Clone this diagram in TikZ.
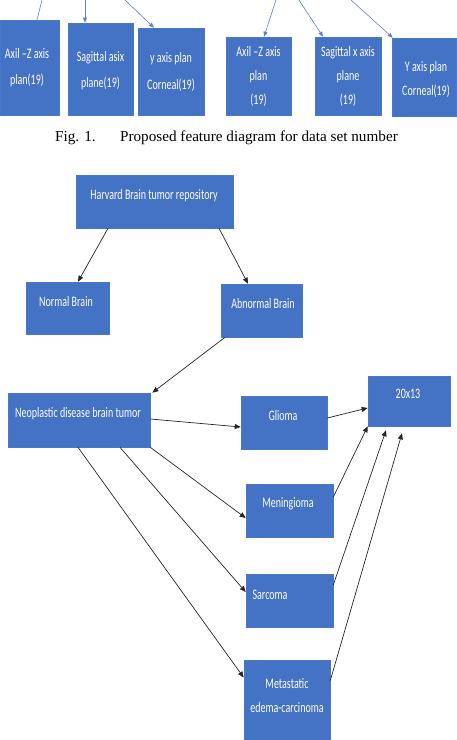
\documentclass[tikz,border=0pt]{standalone}
\usepackage{fontspec}
\setmainfont{Liberation Serif}
\newfontfamily\boxfont[FakeStretch=0.69]{Carlito}
\usetikzlibrary{arrows.meta,calc}
\definecolor{boxblue}{HTML}{4472C4}
\definecolor{boxedge}{HTML}{4A78C8}
\definecolor{topline}{HTML}{5A7FCC}
\tikzset{
  bx/.style={rectangle, fill=boxblue, draw=boxedge, line width=0.6pt, inner sep=0pt},
  bt/.style={text=white, font=\boxfont\fontsize{14.5}{24}\selectfont, align=center, inner sep=0pt},
  bt2/.style={bt, font=\boxfont\fontsize{14.5}{26.5}\selectfont},
  conn/.style={draw=black!85, line width=0.7pt, -{Triangle[length=6pt,width=5pt]}},
  tconn/.style={draw=topline, line width=0.6pt, -{Triangle[length=5pt,width=4pt]}},
}
\begin{document}
\begin{tikzpicture}[x=1pt,y=-1pt]
\useasboundingbox (0,0) rectangle (456,740);
% ---- top row ----
\node[bx, minimum width=59pt, minimum height=95pt] (t1) at (29.5,67.5) {};
\node[bt2] (t1t) at (27,67.5) {Axil –Z axis\\plan(19)};
\node[bx, minimum width=65pt, minimum height=92pt] (t2) at (100.5,69) {};
\node[bt2] (t2t) at (100.5,70.5) {Sagittal asix\\plane(19)};
\node[bx, minimum width=66pt, minimum height=87pt] (t3) at (171,71.5) {};
\node[bt2] (t3t) at (171,72) {y axis plan\\Corneal(19)};
\node[bx, minimum width=65pt, minimum height=78pt] (t4) at (258.5,76) {};
\node[bt] (t4t) at (258.5,76) {Axil –Z axis\\plan\\(19)};
\node[bx, minimum width=66pt, minimum height=78pt] (t5) at (348,76) {};
\node[bt] (t5t) at (348,76) {Sagittal x axis\\plane\\(19)};
\node[bx, minimum width=64pt, minimum height=78pt] (t6) at (424,77) {};
\node[bt] (t6t) at (426,79.5) {Y axis plan\\Corneal(19)};
\coordinate (f1) at (42,0);
\coordinate (f2) at (85,0);
\coordinate (f3) at (125,0);
\coordinate (f4) at (276,0);
\coordinate (f5) at (299,0);
\coordinate (f6) at (351,0);
\draw[draw=topline, line width=0.6pt] (f1) -- ([xshift=7.5pt]t1.north);
\draw[tconn] (f2) -- ([xshift=-15.5pt]t2.north);
\draw[tconn] (f3) -- ([xshift=-17pt]t3.north);
\draw[tconn] (f4) -- ([xshift=5.5pt]t4.north);
\draw[tconn] (f5) -- ([xshift=-25pt]t5.north);
\draw[tconn] (f6) -- ([xshift=1pt]t6.north west);
% ---- caption ----
\node[font=\fontsize{15.2}{17}\selectfont, inner sep=0pt] (cap) at (226.5,138) {Fig. 1.\hspace{1.6em}Proposed feature diagram for data set number};
% ---- bottom diagram ----
\node[bx, minimum width=157pt, minimum height=53pt] (H) at (154.5,201.5) {};
\node[bt] (Ht) at (154,196) {Harvard Brain tumor repository};
\node[bx, minimum width=83pt, minimum height=52pt] (N) at (67.5,308) {};
\node[bt] (Nt) at (66,302) {Normal Brain};
\node[bx, minimum width=81pt, minimum height=53pt] (A) at (261.5,310.5) {};
\node[bt] (At) at (263,304) {Abnormal Brain};
\node[bx, minimum width=142pt, minimum height=54pt] (Neo) at (79,420) {};
\node[bt] (Neot) at (78,414) {Neoplastic disease brain tumor};
\node[bx, minimum width=86pt, minimum height=53pt] (G) at (284,422.5) {};
\node[bt] (Gt) at (283,416) {Glioma};
\node[bx, minimum width=82pt, minimum height=50pt] (T) at (409,401) {};
\node[bt] (Tt) at (408,394) {20x13};
\node[bx, minimum width=87pt, minimum height=53pt] (M) at (289.5,510.5) {};
\node[bt] (Mt) at (288,504) {Meningioma};
\node[bx, minimum width=87pt, minimum height=53pt] (S) at (289.5,600.5) {};
\node[bt] (St) at (270,595) {Sarcoma};
\node[bx, minimum width=86pt, minimum height=82pt] (Me) at (287,701) {};
\node[bt] (Met) at (287,695.5) {Metastatic\\edema-carcinoma};
% ---- connectors ----
\draw[conn] ([xshift=-46.5pt]H.south) -- ([xshift=10.5pt]N.north);
\draw[conn] ([xshift=64.5pt]H.south) -- ([xshift=-13.5pt]A.north);
\draw[conn] ([xshift=-36.5pt]A.south) -- ([xshift=2pt]Neo.north east);
\draw[conn] ([yshift=1pt]Neo.east) -- ([yshift=-4.5pt]G.west);
\draw[conn] ([yshift=4.5pt]G.east) -- ([yshift=-7pt]T.west);
\draw[conn] (Neo.south east) -- ([yshift=-7.5pt]M.west);
\draw[conn] ([xshift=41pt]Neo.south) -- ([yshift=8.5pt]S.west);
\draw[conn] ([xshift=-1pt]Neo.south) -- ([yshift=23.5pt]Me.west);
\draw[conn] ([yshift=13.5pt]M.east) -- (T.south west);
\draw[conn] ([yshift=15.5pt]S.east) -- ([xshift=-23pt,yshift=-4pt]T.south);
\draw[conn] ([yshift=20.5pt]Me.east) -- ([xshift=-7pt,yshift=-7pt]T.south);
\end{tikzpicture}
\end{document}
